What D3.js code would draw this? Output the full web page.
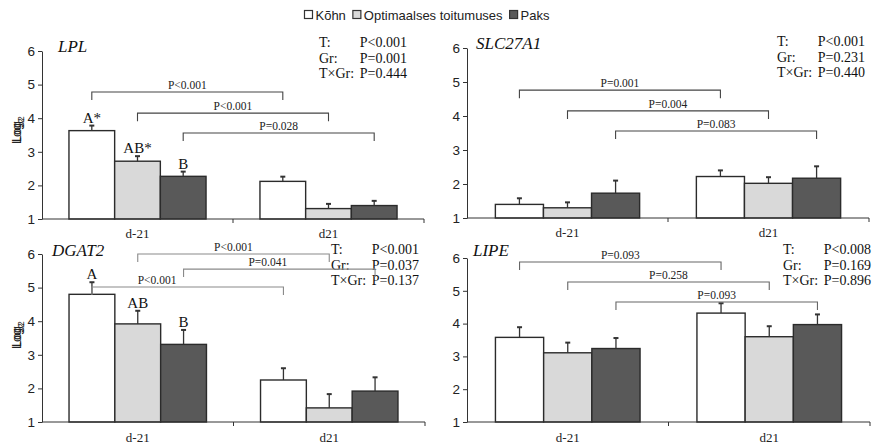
<!DOCTYPE html>
<html>
<head>
<meta charset="utf-8">
<script src="https://cdn.jsdelivr.net/npm/d3@7"></script>
<style>
  body { margin: 0; background: #fff; }
  svg { display: block; }
</style>
</head>
<body>
<svg id="chart" width="876" height="446"></svg>
<script>
// categories
const times = ["d-21", "d21"];
const groups = ["Kõhn", "Optimaalses toitumuses", "Paks"];
const yTicks = [1, 2, 3, 4, 5, 6];
const statLabels = ["T:", "Gr:", "T×Gr:"];

// means and SE, order: d-21 (Kõhn, Opt, Paks), d21 (Kõhn, Opt, Paks)
const lplMean = [3.63, 2.72, 2.27, 2.12, 1.31, 1.40];
const lplErr = [0.15, 0.15, 0.14, 0.14, 0.14, 0.14];
const slcMean = [1.40, 1.30, 1.73, 2.22, 2.02, 2.17];
const slcErr = [0.18, 0.16, 0.37, 0.18, 0.18, 0.35];
const dgatMean = [4.80, 3.92, 3.31, 2.25, 1.42, 1.92];
const dgatErr = [0.36, 0.39, 0.43, 0.35, 0.41, 0.41];
const lipeMean = [3.58, 3.11, 3.24, 4.32, 3.60, 3.97];
const lipeErr = [0.31, 0.31, 0.32, 0.30, 0.32, 0.31];

// letters over d-21 bars
const lplLetters = ["A*", "AB*", "B"];
const dgatLetters = ["A", "AB", "B"];

// stats text
const lplStats = ["P<0.001", "P=0.001", "P=0.444"];
const slcStats = ["P<0.001", "P=0.231", "P=0.440"];
const dgatStats = ["P<0.001", "P=0.037", "P=0.137"];
const lipeStats = ["P<0.008", "P=0.169", "P=0.896"];

// brackets d-21 vs d21 for each group: group index, label, level (log2)
const lplBrackets = [
  {g: 0, p: "P<0.001", level: 4.78},
  {g: 1, p: "P<0.001", level: 4.15},
  {g: 2, p: "P=0.028", level: 3.56}
];
const slcBrackets = [
  {g: 0, p: "P=0.001", level: 4.76},
  {g: 1, p: "P=0.004", level: 4.15},
  {g: 2, p: "P=0.083", level: 3.56}
];
const dgatBrackets = [
  {g: 1, p: "P<0.001", level: 6.0, f: 0.5},
  {g: 2, p: "P=0.041", level: 5.55, f: 0.44},
  {g: 0, p: "P<0.001", level: 5.02, f: 0.34}
];
const lipeBrackets = [
  {g: 0, p: "P=0.093", level: 5.88},
  {g: 1, p: "P=0.258", level: 5.27},
  {g: 2, p: "P=0.093", level: 4.66}
];

const fills = ["#ffffff", "#d9d9d9", "#595959"];
const serif = "'Liberation Serif', 'Times New Roman', serif";
const sans = "'Liberation Sans', Arial, sans-serif";

const panels = [
  {gene: "LPL", mean: lplMean, err: lplErr, letters: lplLetters, stats: lplStats, brackets: lplBrackets,
   x0: 42, x1: 424, yTop: 51, yBot: 219, titleX: 58, titleY: 52, statR: 407, statY: 47,
   brColor: "#444", labY: 19},
  {gene: "SLC27A1", mean: slcMean, err: slcErr, letters: null, stats: slcStats, brackets: slcBrackets,
   x0: 467, x1: 869, yTop: 48, yBot: 218, titleX: 476, titleY: 49, statR: 865, statY: 46,
   brColor: "#444", labY: 19},
  {gene: "DGAT2", mean: dgatMean, err: dgatErr, letters: dgatLetters, stats: dgatStats, brackets: dgatBrackets,
   x0: 42, x1: 425, yTop: 254, yBot: 422, titleX: 52, titleY: 256, statR: 419, statY: 254,
   brColor: "#8a8a8a", labY: 20},
  {gene: "LIPE", mean: lipeMean, err: lipeErr, letters: null, stats: lipeStats, brackets: lipeBrackets,
   x0: 467, x1: 870, yTop: 258, yBot: 422, titleX: 473, titleY: 256, statR: 871, statY: 254,
   brColor: "#666", labY: 20}
];

const svg = d3.select("#chart");

panels.forEach(p => {
  const g = svg.append("g");
  const y = d3.scaleLinear().domain([1, 6]).range([p.yBot, p.yTop]);
  const xT = d3.scaleBand().domain(times).range([p.x0, p.x1]);
  const xG = d3.scaleBand().domain(groups).range([0, xT.bandwidth()]).paddingOuter(0.59);
  const cx = (t, k) => xT(times[t]) + xG(groups[k]) + xG.bandwidth() / 2;

  const rows = [];
  times.forEach((t, ti) => groups.forEach((gr, gi) => {
    rows.push({t, ti, gr, gi, m: p.mean[ti * 3 + gi], e: p.err[ti * 3 + gi]});
  }));

  // y axis
  const ya = g.append("g")
    .attr("transform", `translate(${p.x0},0)`)
    .call(d3.axisLeft(y).tickValues(yTicks).tickSize(4).tickSizeOuter(0).tickFormat(d3.format("d")));
  ya.select(".domain").attr("stroke", "#333");
  ya.selectAll(".tick line").attr("stroke", "#333");
  ya.selectAll(".tick text").attr("font-family", sans).attr("font-size", 13.5).attr("fill", "#222");

  // bars
  g.append("g").selectAll("rect")
    .data(rows)
    .join("rect")
    .attr("x", d => xT(d.t) + xG(d.gr))
    .attr("y", d => y(d.m))
    .attr("width", xG.bandwidth())
    .attr("height", d => y(1) - y(d.m))
    .attr("fill", d => fills[d.gi])
    .attr("stroke", "#2b2b2b")
    .attr("stroke-width", 1.4);

  // error bars
  const eb = g.append("g").attr("stroke", "#333").attr("stroke-width", 1.3);
  eb.selectAll("line.v").data(rows).join("line").attr("class", "v")
    .attr("x1", d => cx(d.ti, d.gi)).attr("x2", d => cx(d.ti, d.gi))
    .attr("y1", d => y(d.m)).attr("y2", d => y(d.m + d.e));
  eb.selectAll("line.c").data(rows).join("line").attr("class", "c")
    .attr("x1", d => cx(d.ti, d.gi) - 2.5).attr("x2", d => cx(d.ti, d.gi) + 2.5)
    .attr("y1", d => y(d.m + d.e)).attr("y2", d => y(d.m + d.e))
    .attr("stroke-width", 2);

  // x axis
  const xa = g.append("g").attr("stroke", "#333").attr("stroke-width", 1);
  xa.append("line").attr("x1", p.x0).attr("x2", p.x1).attr("y1", y(1)).attr("y2", y(1));
  [xT(times[1]), p.x1].forEach(v => {
    xa.append("line").attr("x1", v).attr("x2", v).attr("y1", y(1)).attr("y2", y(1) + 4);
  });
  g.append("g").selectAll("text")
    .data(times)
    .join("text")
    .attr("x", d => xT(d) + xT.bandwidth() / 2)
    .attr("y", y(1) + p.labY)
    .attr("text-anchor", "middle")
    .attr("font-family", serif)
    .attr("font-size", 13)
    .attr("fill", "#222")
    .text(d => d);

  // y label: "Log" with subscript 2, rotated
  const mid = (p.yTop + p.yBot) / 2 - 5;
  const ylab = g.append("g").attr("transform", `translate(21,${mid}) rotate(-90)`);
  ylab.append("text")
    .attr("x", -14).attr("y", 0)
    .attr("font-family", sans).attr("font-size", 12.5).attr("fill", "#222")
    .text("Log");
  ylab.append("text")
    .attr("x", 7).attr("y", 3)
    .attr("font-family", sans).attr("font-size", 8.5).attr("fill", "#222")
    .text("2");

  // title
  g.append("text")
    .attr("x", p.titleX).attr("y", p.titleY)
    .attr("font-family", serif)
    .attr("font-style", "italic")
    .attr("font-size", 17)
    .attr("fill", "#111")
    .text(p.gene);

  // stats
  p.stats.forEach((s, i) => {
    g.append("text")
      .attr("x", p.statR - 88).attr("y", p.statY + i * 15.5)
      .attr("font-family", serif).attr("font-size", 14).attr("fill", "#111")
      .text(statLabels[i]);
    g.append("text")
      .attr("x", p.statR).attr("y", p.statY + i * 15.5)
      .attr("text-anchor", "end")
      .attr("font-family", serif).attr("font-size", 14).attr("fill", "#111")
      .text(s);
  });

  // significance letters
  if (p.letters) {
    g.append("g").selectAll("text")
      .data(rows.filter(d => d.ti === 0))
      .join("text")
      .attr("x", d => cx(0, d.gi))
      .attr("y", d => y(d.m + d.e) - 3)
      .attr("text-anchor", "middle")
      .attr("font-family", serif)
      .attr("font-size", 15)
      .attr("fill", "#111")
      .text(d => p.letters[d.gi]);
  }

  // brackets
  p.brackets.forEach(b => {
    const xa1 = cx(0, b.g), xb1 = cx(1, b.g), yy = y(b.level);
    g.append("path")
      .attr("d", `M${xa1},${yy + 8}V${yy}H${xb1}V${yy + 8}`)
      .attr("fill", "none")
      .attr("stroke", p.brColor)
      .attr("stroke-width", 1.1);
    const f = b.f === undefined ? 0.5 : b.f;
    g.append("text")
      .attr("x", xa1 + (xb1 - xa1) * f)
      .attr("y", yy - 3)
      .attr("text-anchor", "middle")
      .attr("font-family", serif)
      .attr("font-size", 11.5)
      .attr("fill", "#222")
      .text(b.p);
  });
});

// legend
const legend = svg.append("g");
let lx = 0;
groups.forEach((d, i) => {
  const it = legend.append("g");
  it.append("rect")
    .attr("x", 0).attr("y", -4.5).attr("width", 8).attr("height", 8)
    .attr("fill", fills[i]).attr("stroke", "#333").attr("stroke-width", 1.2);
  const t = it.append("text")
    .attr("x", 11).attr("y", 4.5)
    .attr("font-family", sans).attr("font-size", 13).attr("fill", "#222")
    .text(d);
  it.attr("transform", `translate(${lx},0)`);
  lx += 11 + t.node().getComputedTextLength() + 7;
});
legend.attr("transform", `translate(${427 - (lx - 7) / 2},15)`);
</script>
</body>
</html>
